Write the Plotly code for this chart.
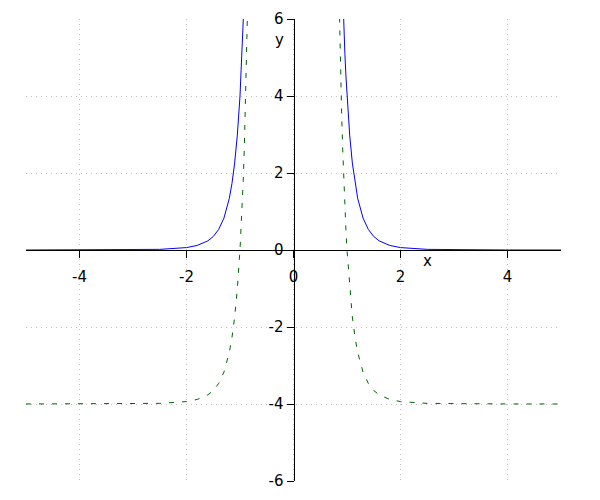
import plotly.graph_objects as go

# Values
x_blue = [-5.0, -4.0, -3.0, -2.5, -2.0, -1.8, -1.6, -1.5, -1.4, -1.3, -1.2, -1.15, -1.1, -1.05, -1.0, -0.98, -0.96, -0.94, -0.92, -0.9,
          None,
          0.9, 0.92, 0.94, 0.96, 0.98, 1.0, 1.05, 1.1, 1.15, 1.2, 1.3, 1.4, 1.5, 1.6, 1.8, 2.0, 2.5, 3.0, 4.0, 5.0]
y_blue = [0.0003, 0.001, 0.0055, 0.0164, 0.0625, 0.118, 0.238, 0.351, 0.531, 0.829, 1.34, 1.729, 2.258, 2.985, 4.0, 4.52, 5.11, 5.80, 6.60, 7.53,
          None,
          7.53, 6.60, 5.80, 5.11, 4.52, 4.0, 2.985, 2.258, 1.729, 1.34, 0.829, 0.531, 0.351, 0.238, 0.118, 0.0625, 0.0164, 0.0055, 0.001, 0.0003]

x_green = [-5.0, -4.0, -3.0, -2.5, -2.0, -1.8, -1.6, -1.5, -1.4, -1.3, -1.2, -1.15, -1.1, -1.05, -1.0, -0.98, -0.96, -0.94, -0.92, -0.9, -0.87, -0.86, -0.85, -0.84,
           None,
           0.84, 0.85, 0.86, 0.87, 0.9, 0.92, 0.94, 0.96, 0.98, 1.0, 1.05, 1.1, 1.15, 1.2, 1.3, 1.4, 1.5, 1.6, 1.8, 2.0, 2.5, 3.0, 4.0, 5.0]
y_green = [-3.9997, -3.999, -3.9945, -3.9836, -3.9375, -3.882, -3.762, -3.649, -3.469, -3.171, -2.66, -2.271, -1.742, -1.015, 0.0, 0.52, 1.11, 1.80, 2.60, 3.53, 5.22, 5.89, 6.6, 7.39,
           None,
           7.39, 6.6, 5.89, 5.22, 3.53, 2.60, 1.80, 1.11, 0.52, 0.0, -1.015, -1.742, -2.271, -2.66, -3.171, -3.469, -3.649, -3.762, -3.882, -3.9375, -3.9836, -3.9945, -3.999, -3.9997]

x_ticks = [-4, -2, 0, 2, 4]
x_tick_labels = ["-4", "-2", "0", "2", "4"]
y_ticks = [-6, -4, -2, 0, 2, 4, 6]
y_tick_labels = ["-6", "-4", "-2", "0", "2", "4", "6"]

fig = go.Figure()
fig.add_trace(go.Scatter(x=x_green, y=y_green, mode="lines",
                         line=dict(color="#006400", width=1, dash="5px,8px"),
                         connectgaps=False, hoverinfo="skip"))
fig.add_trace(go.Scatter(x=x_blue, y=y_blue, mode="lines",
                         line=dict(color="#0000ff", width=1),
                         connectgaps=False, hoverinfo="skip"))

font = dict(family="DejaVu Sans", size=15, color="black")

fig.update_layout(
    width=600, height=500,
    margin=dict(l=18, r=47, t=11, b=27),
    paper_bgcolor="white", plot_bgcolor="white",
    showlegend=False,
    font=font,
    xaxis=dict(range=[-5, 5], tickvals=x_ticks, ticktext=x_tick_labels,
               showline=True, linecolor="black", linewidth=1,
               ticks="outside", ticklen=7, tickcolor="black", tickwidth=1,
               anchor="free", position=0.5, zeroline=False,
               showgrid=True, gridcolor="#c0c0c0", gridwidth=1, griddash="1px,4px",
               automargin=False, tickfont=font, ticklabelstandoff=6),
    yaxis=dict(range=[-6, 6], tickvals=y_ticks, ticktext=y_tick_labels,
               showline=True, linecolor="black", linewidth=1,
               ticks="outside", ticklen=7, tickcolor="black", tickwidth=1,
               anchor="free", position=0.5, zeroline=False,
               showgrid=True, gridcolor="#c0c0c0", gridwidth=1, griddash="1px,4px",
               automargin=False, tickfont=font),
    annotations=[
        dict(x=2.5, y=-0.29, xref="x", yref="y", text="x", showarrow=False, font=font),
        dict(x=-0.27, y=5.45, xref="x", yref="y", text="y", showarrow=False, font=font),
    ],
)

fig.write_html("out.html")
